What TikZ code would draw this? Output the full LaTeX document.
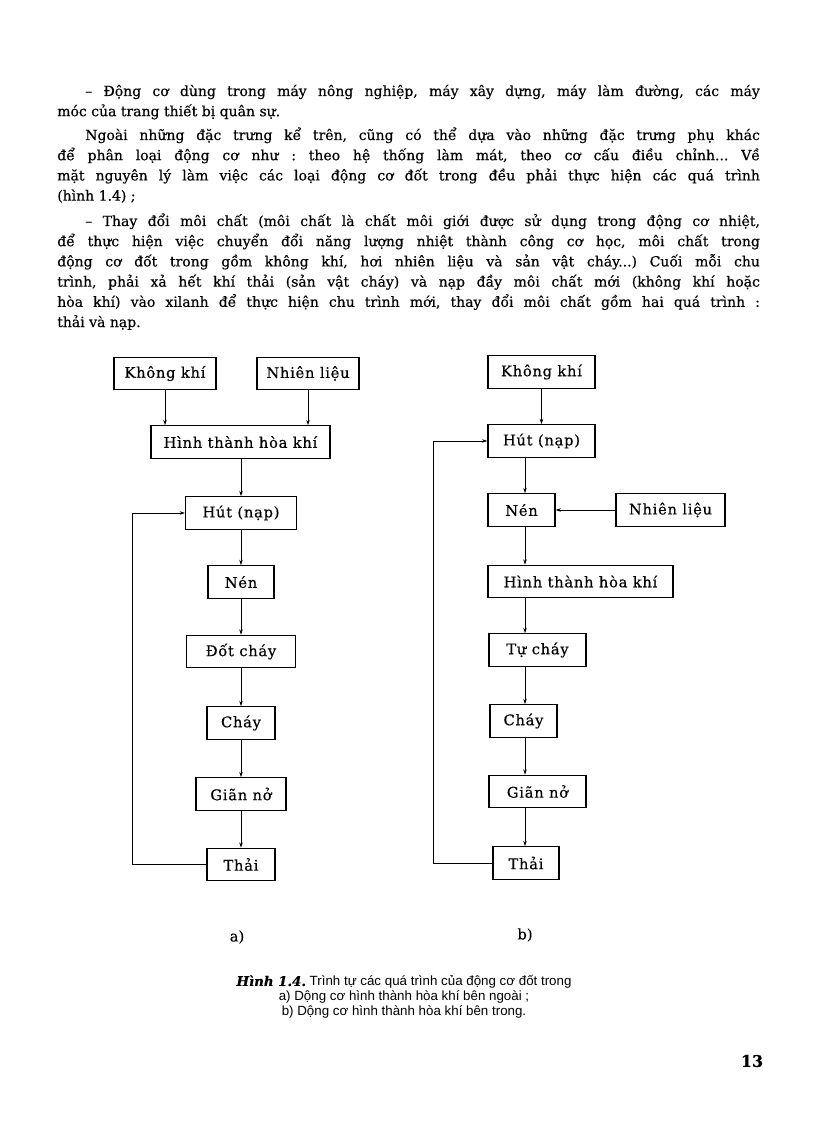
\documentclass[tikz,border=0pt]{standalone}
\usepackage{fontspec}
\setmainfont{DejaVu Serif}[FakeBold=0.4]
\newfontfamily\boxfont{DejaVu Serif}[LetterSpace=5, FakeBold=0.4]
\newfontfamily\capfont{Liberation Sans}
\usepackage{tikz}
\usetikzlibrary{arrows.meta,positioning}
\tolerance=9999
\hbadness=10000
\hyphenpenalty=10000
\frenchspacing

\begin{document}
\begin{tikzpicture}[x=0.75pt, y=-0.75pt,
  box/.style={draw, line width=0.8pt, inner sep=0pt, minimum height=24.5pt, font=\boxfont\fontsize{11}{12}\selectfont},
  arr/.style={-{Stealth[length=4pt, width=2.6pt]}, line width=0.5pt},
  para/.style={anchor=base west, inner sep=0pt, text width=527pt, align=justify, font=\fontsize{10.5}{15.15}\selectfont},
  lab/.style={font=\fontsize{11}{13}\selectfont}]
  \path[use as bounding box, fill=white] (0,0) rectangle (816,1123);
  % body text, one node per paragraph
  \node[para] (p1) at (57,96) {\hspace*{21pt}– Động cơ dùng trong máy nông nghiệp, máy xây dựng, máy làm đường, các máy\linebreak
    móc của trang thiết bị quân sự.};
  \node[para] (p2) at (57,140) {\hspace*{21pt}Ngoài những đặc trưng kể trên, cũng có thể dựa vào những đặc trưng phụ khác\linebreak
    để phân loại động cơ như : theo hệ thống làm mát, theo cơ cấu điều chỉnh... Về\linebreak
    mặt nguyên lý làm việc các loại động cơ đốt trong đều phải thực hiện các quá trình\linebreak
    (hình 1.4) ;};
  \node[para] (p3) at (57,226) {\hspace*{21pt}– Thay đổi môi chất (môi chất là chất môi giới được sử dụng trong động cơ nhiệt,\linebreak
    để thực hiện việc chuyển đổi năng lượng nhiệt thành công cơ học, môi chất trong\linebreak
    động cơ đốt trong gồm không khí, hơi nhiên liệu và sản vật cháy...) Cuối mỗi chu\linebreak
    trình, phải xả hết khí thải (sản vật cháy) và nạp đầy môi chất mới (không khí hoặc\linebreak
    hòa khí) vào xilanh để thực hiện chu trình mới, thay đổi môi chất gồm hai quá trình :\linebreak
    thải và nạp.};

  % a) external mixture formation
  \node[box, minimum width=76.5pt]  (kk_a)   at (165,373.5) {Không khí};
  \node[box, minimum width=76.5pt]  (nl_a)   at (308,373.5) {Nhiên liệu};
  \node[box, minimum width=134.25pt] (ht_a)  at (240.5,442) {Hình thành hòa khí};
  \node[box, minimum width=83.25pt] (hut_a)  at (241,513)   {Hút (nạp)};
  \node[box, minimum width=49.5pt]  (nen_a)  at (241,582)   {Nén};
  \node[box, minimum width=81.75pt] (dot_a)  at (241,651.5) {Đốt cháy};
  \node[box, minimum width=51pt]    (chay_a) at (241,723)   {Cháy};
  \node[box, minimum width=67.5pt]  (gian_a) at (241,794)   {Giãn nở};
  \node[box, minimum width=51pt]    (thai_a) at (241,864.5) {Thải};
  \coordinate (loop_a) at (132,864.5);
  \draw[arr] (kk_a.south) -- (kk_a.south |- ht_a.north);
  \draw[arr] (nl_a.south) -- (nl_a.south |- ht_a.north);
  \draw[arr] (ht_a.south -| hut_a) -- (hut_a.north);
  \draw[arr] (hut_a) -- (nen_a);
  \draw[arr] (nen_a) -- (dot_a);
  \draw[arr] (dot_a) -- (chay_a);
  \draw[arr] (chay_a) -- (gian_a);
  \draw[arr] (gian_a) -- (thai_a);
  \draw[arr] (thai_a.west) -- (loop_a) |- (hut_a.west);

  % b) internal mixture formation
  \node[box, minimum width=80.25pt]  (kk_b)   at (541.5,372) {Không khí};
  \node[box, minimum width=80.25pt]  (hut_b)  at (541.5,441) {Hút (nạp)};
  \node[box, minimum width=50.25pt]  (nen_b)  at (521.5,510) {Nén};
  \node[box, minimum width=81.75pt]  (nl_b)   at (670.5,510) {Nhiên liệu};
  \node[box, minimum width=138.75pt] (ht_b)   at (580.5,581.5) {Hình thành hòa khí};
  \node[box, minimum width=72.75pt]  (tu_b)   at (537.5,650) {Tự cháy};
  \node[box, minimum width=50.25pt]  (chay_b) at (523.5,721) {Cháy};
  \node[box, minimum width=72.75pt]  (gian_b) at (537.5,791.5) {Giãn nở};
  \node[box, minimum width=49.5pt]   (thai_b) at (526,863) {Thải};
  \coordinate (col_b) at (525,0);
  \coordinate (loop_b) at (433,863);
  \draw[arr] (kk_b) -- (hut_b);
  \draw[arr] (hut_b.south -| col_b) -- (nen_b.north -| col_b);
  \draw[arr] (nl_b) -- (nen_b);
  \draw[arr] (nen_b.south -| col_b) -- (ht_b.north -| col_b);
  \draw[arr] (ht_b.south -| col_b) -- (tu_b.north -| col_b);
  \draw[arr] (tu_b.south -| col_b) -- (chay_b.north -| col_b);
  \draw[arr] (chay_b.south -| col_b) -- (gian_b.north -| col_b);
  \draw[arr] (gian_b.south -| col_b) -- (thai_b.north -| col_b);
  \draw[arr] (thai_b.west) -- (loop_b) |- (hut_b.west);

  \node[lab] (la) at (237,937) {a)};
  \node[lab] (lb) at (525,935) {b)};
  \node[align=center, font=\capfont\fontsize{10}{11.25}\selectfont] (cap) at (404,997)
    {{\rmfamily\bfseries\itshape Hình 1.4.} Trình tự các quá trình của động cơ đốt trong\\
     a) Dộng cơ hình thành hòa khí bên ngoài ;\\
     b) Dộng cơ hình thành hòa khí bên trong.};
  \node[font=\bfseries\fontsize{12}{14}\selectfont] (pg) at (752,1061) {13};
\end{tikzpicture}
\end{document}
